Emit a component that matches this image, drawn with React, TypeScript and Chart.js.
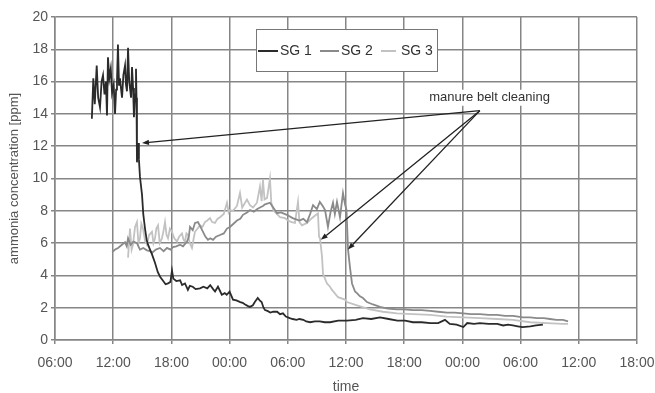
import React, { useEffect, useRef } from "react";
import { Chart, registerables } from "chart.js";

Chart.register(...registerables);

// x values are hours after 06:00 of the first day
const tickHours = [0, 6, 12, 18, 24, 30, 36, 42, 48, 54, 60];
const tickLabels = ["06:00", "12:00", "18:00", "00:00", "06:00", "12:00", "18:00", "00:00", "06:00", "12:00", "18:00"];
const seriesNames = ["SG 1", "SG 2", "SG 3"];
const seriesColors = ["#2b2b2b", "#8a8a8a", "#c2c2c2"];

const sg1: number[][] = [
  [3.8, 13.7], [3.95, 16.2], [4.1, 14.6], [4.3, 17.0], [4.45, 15.0], [4.64, 14.4], [4.8, 16.0], [4.95, 16.4],
  [5.1, 15.2], [5.25, 16.0], [5.36, 13.9], [5.46, 17.5], [5.6, 16.2], [5.75, 16.8], [5.88, 15.3], [6.05, 15.8],
  [6.19, 14.0], [6.3, 15.5], [6.39, 16.0], [6.49, 18.3], [6.6, 15.8], [6.7, 16.2], [6.8, 15.6], [6.91, 15.0],
  [7.05, 16.4], [7.22, 17.0], [7.32, 15.8], [7.42, 15.4], [7.53, 18.1], [7.65, 16.0], [7.75, 15.5], [7.84, 15.0],
  [7.94, 16.9], [8.05, 15.6], [8.14, 13.8], [8.25, 15.2], [8.35, 16.8], [8.4, 15.0], [8.45, 11.0], [8.56, 12.2],
  [8.65, 11.2], [8.76, 10.1], [8.97, 9.0], [9.1, 7.8], [9.28, 6.9], [9.45, 6.2], [9.59, 5.9], [9.8, 5.6],
  [10.0, 5.3], [10.3, 4.8], [10.6, 4.2], [10.85, 3.9], [11.1, 3.7], [11.4, 3.45], [11.65, 3.5], [11.9, 3.6],
  [12.06, 4.3], [12.2, 3.8], [12.5, 3.65], [12.9, 3.7], [13.1, 3.4], [13.4, 3.5], [13.7, 3.1], [13.9, 3.35],
  [14.2, 3.3], [14.5, 3.15], [14.95, 3.2], [15.3, 3.3], [15.7, 3.2], [16.0, 3.4], [16.3, 3.15], [16.5, 3.0],
  [16.8, 3.3], [17.0, 3.05], [17.2, 2.8], [17.5, 2.9], [17.7, 2.8], [18.0, 3.0], [18.35, 2.5], [18.7, 2.45],
  [19.1, 2.35], [19.35, 2.3], [19.6, 2.2], [19.9, 2.1], [20.1, 2.05], [20.4, 2.15], [20.6, 2.35], [20.9, 2.6],
  [21.1, 2.45], [21.3, 2.35], [21.5, 2.0], [21.65, 1.85], [21.9, 1.8], [22.2, 1.7], [22.5, 1.75], [22.9, 1.75],
  [23.2, 1.6], [23.5, 1.65], [23.8, 1.45], [24.2, 1.35], [24.5, 1.3], [24.9, 1.25], [25.2, 1.3], [25.6, 1.25],
  [25.9, 1.15], [26.3, 1.1], [26.8, 1.15], [27.3, 1.15], [27.8, 1.1], [28.35, 1.1], [29.2, 1.2], [30.1, 1.2],
  [31.0, 1.25], [31.75, 1.35], [32.6, 1.3], [33.5, 1.4], [34.4, 1.3], [35.3, 1.2], [36.1, 1.2], [36.9, 1.1],
  [37.8, 1.1], [38.7, 1.05], [39.5, 1.05], [40.2, 1.25], [40.7, 1.0], [41.4, 0.95], [42.1, 0.8], [42.5, 1.05],
  [43.2, 1.0], [43.8, 1.05], [44.7, 1.0], [45.6, 1.0], [46.2, 0.9], [46.7, 0.95], [47.2, 0.9], [47.7, 0.85],
  [48.2, 0.8], [49.0, 0.85], [49.6, 0.9], [50.3, 0.95],
];

const sg2: number[][] = [
  [5.9, 5.45], [6.2, 5.6], [6.5, 5.7], [6.9, 5.9], [7.22, 6.05], [7.4, 5.8], [7.53, 6.3], [7.8, 5.9],
  [8.1, 6.1], [8.45, 6.0], [8.76, 5.6], [9.1, 5.7], [9.48, 5.55], [9.8, 5.5], [10.0, 5.4], [10.4, 5.6],
  [10.82, 5.7], [11.2, 5.5], [11.55, 5.7], [11.9, 5.6], [12.16, 5.75], [12.5, 5.8], [12.89, 5.9], [13.2, 5.8],
  [13.61, 6.1], [13.8, 6.4], [13.92, 7.0], [14.2, 6.8], [14.43, 7.25], [14.74, 7.3], [15.0, 7.0], [15.26, 6.7],
  [15.5, 6.4], [15.77, 6.2], [16.0, 6.3], [16.29, 6.2], [16.6, 6.4], [17.01, 6.5], [17.4, 6.6], [17.73, 6.9],
  [18.04, 7.0], [18.4, 7.2], [18.76, 7.4], [19.1, 7.5], [19.38, 7.75], [19.8, 7.9], [20.1, 8.05], [20.5, 7.95],
  [20.82, 8.1], [21.13, 8.2], [21.44, 8.3], [21.65, 8.4], [22.16, 8.5], [22.5, 8.2], [22.89, 7.85], [23.3, 7.9],
  [23.9, 7.75], [24.5, 7.55], [25.2, 7.4], [25.6, 7.5], [25.98, 7.3], [26.3, 7.8], [26.6, 8.35], [27.0, 8.1],
  [27.3, 8.55], [27.6, 8.3], [27.84, 8.05], [28.14, 7.0], [28.4, 7.9], [28.66, 8.5], [28.85, 7.8], [29.07, 8.55],
  [29.38, 7.6], [29.69, 9.1], [29.9, 8.4], [30.05, 8.05], [30.12, 7.0], [30.21, 5.6], [30.41, 4.5], [30.62, 3.5],
  [30.93, 3.0], [31.13, 2.9], [31.44, 2.7], [31.75, 2.6], [32.16, 2.35], [32.78, 2.2], [33.51, 2.05], [34.3, 1.95],
  [35.26, 1.9], [36.0, 1.9], [36.91, 1.85], [37.8, 1.85], [38.66, 1.8], [39.5, 1.75], [40.41, 1.7], [41.2, 1.7],
  [42.06, 1.65], [42.9, 1.6], [43.81, 1.6], [44.7, 1.55], [45.57, 1.55], [46.4, 1.5], [47.22, 1.5], [48.25, 1.4],
  [48.97, 1.4], [49.69, 1.35], [50.4, 1.35], [51.03, 1.3], [51.7, 1.25], [52.37, 1.25], [52.89, 1.15],
];

const sg3: number[][] = [
  [7.53, 5.1], [7.73, 6.9], [7.9, 5.6], [8.04, 5.9], [8.25, 7.0], [8.45, 7.3], [8.6, 6.0], [8.76, 6.3],
  [8.9, 7.2], [9.07, 6.9], [9.3, 6.1], [9.48, 5.9], [9.7, 6.5], [10.0, 6.7], [10.15, 6.0], [10.31, 6.3],
  [10.45, 6.9], [10.62, 7.1], [10.8, 6.0], [11.03, 6.3], [11.2, 6.8], [11.34, 7.3], [11.5, 6.5], [11.65, 6.3],
  [11.85, 6.9], [12.06, 6.7], [12.3, 6.3], [12.58, 6.1], [12.8, 6.4], [13.09, 6.6], [13.25, 6.2], [13.4, 6.1],
  [13.55, 6.6], [13.71, 6.5], [13.9, 6.0], [14.12, 5.7], [14.3, 6.3], [14.43, 6.7], [14.7, 6.9], [14.95, 7.1],
  [15.2, 7.0], [15.46, 7.3], [15.7, 7.4], [15.98, 7.55], [16.2, 7.3], [16.49, 7.25], [16.75, 7.5], [17.01, 7.6],
  [17.4, 7.8], [17.73, 8.5], [17.9, 7.9], [18.04, 8.05], [18.35, 8.0], [18.76, 8.3], [19.07, 9.1], [19.3, 8.2],
  [19.79, 8.7], [20.1, 8.35], [20.41, 8.2], [20.82, 8.5], [21.13, 9.5], [21.3, 8.6], [21.44, 9.9], [21.6, 8.7],
  [21.86, 8.8], [22.16, 10.0], [22.3, 8.5], [22.5, 8.05], [22.89, 7.8], [23.2, 7.6], [23.71, 7.55], [24.0, 7.4],
  [24.4, 7.3], [24.74, 7.25], [25.05, 8.55], [25.2, 7.3], [25.46, 7.1], [25.98, 7.25], [26.4, 7.5], [26.6, 7.6],
  [27.11, 7.85], [27.22, 6.4], [27.32, 6.3], [27.53, 5.15], [27.63, 4.1], [28.04, 3.5], [28.35, 3.3], [28.56, 3.1],
  [29.18, 2.65], [29.9, 2.5], [30.1, 2.35], [31.13, 2.15], [32.47, 1.9], [33.81, 1.75], [35.26, 1.65], [36.91, 1.6],
  [38.66, 1.55], [40.41, 1.45], [42.06, 1.4], [43.81, 1.35], [45.57, 1.3], [47.22, 1.25], [48.97, 1.1], [50.72, 1.05],
  [52.37, 1.0], [52.89, 1.0],
];

const annotationText = "manure belt cleaning";
const annotationLabelPos = [44.8, 15.0];
const arrowStart = [43.8, 14.2];
const arrowTips = [
  [8.97, 12.2],
  [27.4, 6.2],
  [30.2, 5.6],
];

const FONT = "'Liberation Sans', Arial, sans-serif";

const overlayPlugin = {
  id: "overlay",
  afterDatasetsDraw(chart: any) {
    const { ctx, scales } = chart;
    const xs = scales.x;
    const ys = scales.y;
    ctx.save();
    // arrows
    ctx.strokeStyle = "#222";
    ctx.fillStyle = "#222";
    ctx.lineWidth = 1.3;
    const sx = xs.getPixelForValue(arrowStart[0]);
    const sy = ys.getPixelForValue(arrowStart[1]);
    for (const tip of arrowTips) {
      const tx = xs.getPixelForValue(tip[0]);
      const ty = ys.getPixelForValue(tip[1]);
      const ang = Math.atan2(ty - sy, tx - sx);
      const head = 7;
      const bx = tx - head * Math.cos(ang);
      const by = ty - head * Math.sin(ang);
      ctx.beginPath();
      ctx.moveTo(sx, sy);
      ctx.lineTo(bx, by);
      ctx.stroke();
      ctx.beginPath();
      ctx.moveTo(tx, ty);
      ctx.lineTo(bx + 2.6 * Math.sin(ang), by - 2.6 * Math.cos(ang));
      ctx.lineTo(bx - 2.6 * Math.sin(ang), by + 2.6 * Math.cos(ang));
      ctx.closePath();
      ctx.fill();
    }
    // annotation text
    ctx.font = `13px ${FONT}`;
    ctx.textAlign = "center";
    ctx.textBaseline = "middle";
    const lx = xs.getPixelForValue(annotationLabelPos[0]);
    const ly = ys.getPixelForValue(annotationLabelPos[1]);
    const tw = ctx.measureText(annotationText).width;
    ctx.fillStyle = "#fff";
    ctx.fillRect(lx - tw / 2 - 2, ly - 8, tw + 4, 16);
    ctx.fillStyle = "#333";
    ctx.fillText(annotationText, lx, ly);

    // legend box
    const bx0 = 256, by0 = 29, bw = 181, bh = 42;
    ctx.fillStyle = "#fff";
    ctx.fillRect(bx0, by0, bw, bh);
    ctx.strokeStyle = "#777";
    ctx.lineWidth = 1;
    ctx.strokeRect(bx0 + 0.5, by0 + 0.5, bw, bh);
    ctx.font = `14px ${FONT}`;
    ctx.textAlign = "left";
    ctx.textBaseline = "middle";
    const cy = by0 + 22;
    const samples = [
      [258, 278, 280],
      [320, 339, 341],
      [381, 396, 401],
    ];
    samples.forEach((s, i) => {
      ctx.strokeStyle = seriesColors[i];
      ctx.lineWidth = 2;
      ctx.beginPath();
      ctx.moveTo(s[0], cy);
      ctx.lineTo(s[1], cy);
      ctx.stroke();
      ctx.fillStyle = "#333";
      ctx.fillText(seriesNames[i], s[2], cy);
    });
    ctx.restore();
  },
};

export default function App() {
  const ref = useRef<HTMLCanvasElement | null>(null);
  useEffect(() => {
    if (!ref.current) return;
    const series = [sg1, sg2, sg3];
    const chart = new Chart(ref.current, {
      type: "line",
      data: {
        datasets: series.map((s, i) => ({
          label: seriesNames[i],
          data: s.map((p) => ({ x: p[0], y: p[1] })),
          borderColor: seriesColors[i],
          backgroundColor: seriesColors[i],
          borderWidth: 1.8,
          pointRadius: 0,
          tension: 0,
          fill: false,
        })),
      },
      options: {
        animation: false,
        responsive: true,
        maintainAspectRatio: false,
        layout: { padding: { top: 17, right: 18, left: 0, bottom: 0 } },
        plugins: { legend: { display: false }, tooltip: { enabled: false } },
        scales: {
          x: {
            type: "linear",
            min: 0,
            max: 60,
            afterBuildTicks: (scale: any) => {
              scale.ticks = tickHours.map((v) => ({ value: v }));
            },
            afterFit: (scale: any) => {
              scale.height = 53;
              scale.paddingLeft = 0;
              scale.paddingRight = 0;
            },
            ticks: {
              callback: (v: any) => tickLabels[tickHours.indexOf(Number(v))] ?? "",
              color: "#555",
              font: { family: FONT, size: 14 },
              padding: 11,
              maxRotation: 0,
              autoSkip: false,
            },
            grid: { color: "#868686", lineWidth: 1.5, tickLength: 4 },
            border: { color: "#868686", width: 1.5 },
            title: {
              display: true,
              text: "time",
              color: "#555",
              font: { family: FONT, size: 14 },
              padding: { top: 0, bottom: -3 },
            },
          },
          y: {
            min: 0,
            max: 20,
            afterFit: (scale: any) => {
              scale.width = 55;
              scale.paddingTop = 0;
              scale.paddingBottom = 0;
            },
            ticks: {
              stepSize: 2,
              color: "#555",
              font: { family: FONT, size: 14 },
              padding: 3,
            },
            grid: { color: "#868686", lineWidth: 1.5, tickLength: 4 },
            border: { color: "#868686", width: 1.5 },
            title: {
              display: true,
              text: "ammonia concentration [ppm]",
              color: "#555",
              font: { family: FONT, size: 13 },
              padding: { top: 7, bottom: 0 },
            },
          },
        },
      },
      plugins: [overlayPlugin],
    });
    return () => chart.destroy();
  }, []);
  return (
    <div style={{ position: "fixed", left: 0, top: 0, width: 655, height: 393, background: "#fff" }}>
      <canvas ref={ref} />
    </div>
  );
}
